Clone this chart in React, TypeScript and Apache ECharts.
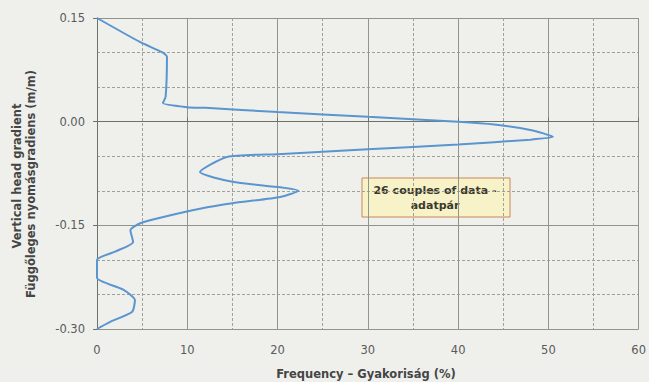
import React, { useEffect, useRef } from "react";
import * as echarts from "echarts";

// Frequency (%) along the curve
const frequency: number[] = [
  0, 4.8, 7.3, 7.75, 7.6, 7.3, 10, 12, 20, 30, 40, 44, 48, 50.5,
  48, 40, 30, 20, 14.4, 11.4, 15, 20.3, 22.3, 20.3, 15, 11.4, 7, 4.8, 3.7,
  4.0, 2.0, 0, 0, 2.9, 4.2, 3.9, 1.4, 0,
];
// Vertical head gradient (m/m) along the curve
const gradient: number[] = [
  0.15, 0.115, 0.1, 0.094, 0.036, 0.027, 0.021, 0.02, 0.014, 0.007, 0.0, -0.004, -0.012, -0.022,
  -0.026, -0.033, -0.04, -0.047, -0.051, -0.073, -0.087, -0.095, -0.1, -0.109, -0.118, -0.126, -0.139, -0.147, -0.157,
  -0.174, -0.188, -0.2, -0.226, -0.243, -0.258, -0.275, -0.29, -0.3,
];
const xTicks = { min: 0, max: 60, interval: 10 };
const yTicks = { min: -0.3, max: 0.15, interval: 0.15 };
const note = ["26 couples of data -", "adatpár"];
const xTitle = "Frequency – Gyakoriság (%)";
const yTitle = ["Vertical head gradient", "Függőleges nyomásgradiens (m/m)"];

export default function App() {
  const ref = useRef<HTMLDivElement>(null);
  useEffect(() => {
    if (!ref.current) return;
    const chart = echarts.init(ref.current, null, { renderer: "svg" });
    const data = frequency.map((f, i) => [f, gradient[i]]);
    const font = "'DejaVu Sans', Verdana, sans-serif";
    chart.setOption({
      animation: false,
      backgroundColor: "#eff0ec",
      grid: { left: 97, right: 10, top: 18, bottom: 53, containLabel: false },
      xAxis: {
        type: "value",
        min: xTicks.min,
        max: xTicks.max,
        interval: xTicks.interval,
        axisLine: { show: true, lineStyle: { color: "#6d7268", width: 1 } },
        axisTick: { show: true, inside: true, length: 4, lineStyle: { color: "#6d7268" } },
        axisLabel: { color: "#5a5a5a", fontSize: 11.5, fontFamily: font, margin: 15 },
        splitLine: { show: true, lineStyle: { color: "#8f9589", width: 1 } },
        minorTick: { show: false, splitNumber: 2 },
        minorSplitLine: { show: true, lineStyle: { color: "#9ea09a", type: [3, 2], width: 1 } },
      },
      yAxis: {
        type: "value",
        min: yTicks.min,
        max: yTicks.max,
        interval: yTicks.interval,
        axisLine: { show: true, onZero: false, lineStyle: { color: "#6d7268", width: 1 } },
        axisTick: { show: true, inside: false, length: 4, lineStyle: { color: "#6d7268" } },
        axisLabel: {
          color: "#5a5a5a",
          fontSize: 11.5,
          fontFamily: font,
          margin: 12,
          formatter: (v: number) => (Math.abs(v) < 1e-9 ? "0.00" : v.toFixed(2)),
        },
        splitLine: { show: true, lineStyle: { color: "#8f9589", width: 1 } },
        minorTick: { show: false, splitNumber: 3 },
        minorSplitLine: { show: true, lineStyle: { color: "#9ea09a", type: [3, 2], width: 1 } },
      },
      series: [
        {
          type: "line",
          data,
          smooth: 0.2,
          showSymbol: false,
          symbol: "none",
          lineStyle: { color: "#5a95cf", width: 2 },
        },
      ],
      graphic: [
        {
          type: "text",
          x: 366,
          y: 374,
          style: {
            text: xTitle,
            font: `bold 11.5px ${font}`,
            fill: "#454545",
            align: "center",
            verticalAlign: "middle",
          },
        },
        {
          type: "text",
          x: 17,
          y: 176,
          rotation: Math.PI / 2,
          style: {
            text: yTitle[0],
            font: `bold 11.5px ${font}`,
            fill: "#454545",
            align: "center",
            verticalAlign: "middle",
          },
        },
        {
          type: "text",
          x: 31,
          y: 184,
          rotation: Math.PI / 2,
          style: {
            text: yTitle[1],
            font: `bold 11.5px ${font}`,
            fill: "#454545",
            align: "center",
            verticalAlign: "middle",
          },
        },
        {
          type: "rect",
          shape: { x: 362, y: 178, width: 148, height: 39 },
          style: { fill: "#f7f2c8", stroke: "#c8875a", lineWidth: 1 },
        },
        {
          type: "text",
          x: 435,
          y: 190,
          style: {
            text: note[0],
            font: `bold 11px ${font}`,
            fill: "#3b3a2c",
            align: "center",
            verticalAlign: "middle",
          },
        },
        {
          type: "text",
          x: 435,
          y: 205,
          style: {
            text: note[1],
            font: `bold 11px ${font}`,
            fill: "#3b3a2c",
            align: "center",
            verticalAlign: "middle",
          },
        },
      ],
    });
    return () => chart.dispose();
  }, []);
  return (
    <div
      ref={ref}
      style={{ position: "fixed", left: 0, top: 0, width: 649, height: 382 }}
    />
  );
}
